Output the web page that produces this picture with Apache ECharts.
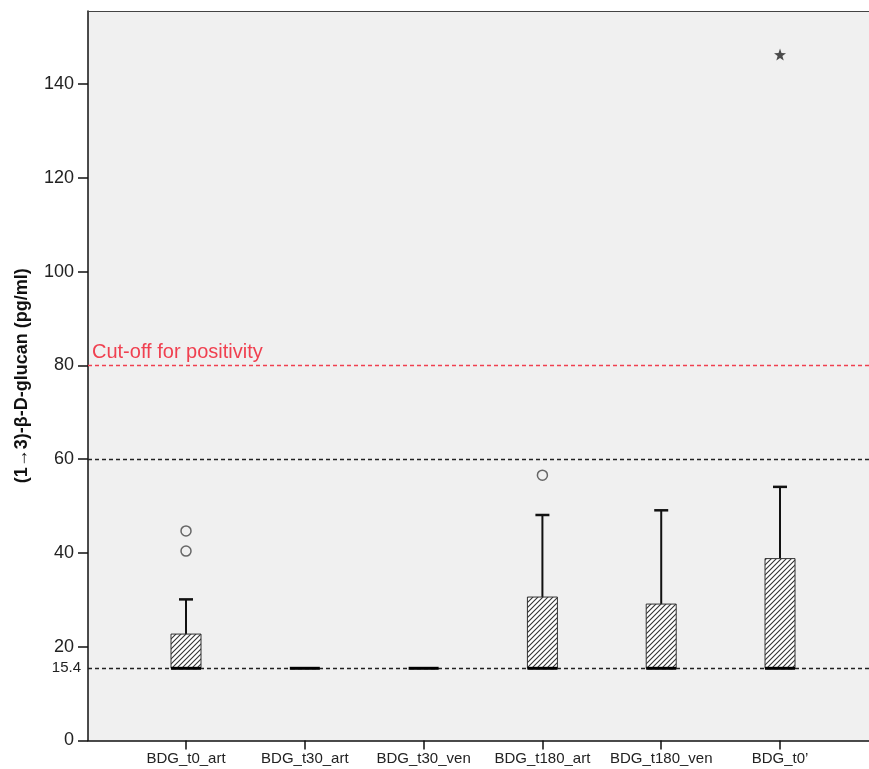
<!DOCTYPE html>
<html>
<head>
<meta charset="utf-8">
<script src="https://cdn.jsdelivr.net/npm/echarts@6/dist/echarts.min.js"></script>
<style>
html,body{margin:0;padding:0;background:#fff;}
#chart{width:869px;height:769px;}
</style>
</head>
<body>
<div id="chart"></div>
<script>
// ---- data ----
const categories = ['BDG_t0_art', 'BDG_t30_art', 'BDG_t30_ven', 'BDG_t180_art', 'BDG_t180_ven', 'BDG_t0\u2019'];
const whiskerLow = [15.4, 15.4, 15.4, 15.4, 15.4, 15.4];
const quartile1 = [15.4, 15.4, 15.4, 15.4, 15.4, 15.4];
const medians = [15.4, 15.4, 15.4, 15.4, 15.4, 15.4];
const quartile3 = [22.7, 15.4, 15.4, 30.6, 29.1, 38.8];
const whiskerHigh = [30.1, 15.4, 15.4, 48.1, 49.1, 54.1];
const outliers = [[0, 44.7], [0, 40.4], [3, 56.6]];
const extremes = [[5, 146.3]];
const yTicks = [0, 20, 40, 60, 80, 100, 120, 140];
const refLow = 15.4;
const refMid = 60;
const cutoff = 80;
const cutoffLabel = 'Cut-off for positivity';
const yTitle = '(1\u21923)-\u03b2-D-glucan (pg/ml)';

// hatch pattern
const pc = document.createElement('canvas');
pc.width = 5; pc.height = 5;
const g = pc.getContext('2d');
g.fillStyle = '#ffffff';
g.fillRect(0, 0, 5, 5);
g.strokeStyle = '#333333';
g.lineWidth = 1.1;
g.beginPath();
g.moveTo(0, 5); g.lineTo(5, 0);
g.moveTo(-1, 1); g.lineTo(1, -1);
g.moveTo(4, 6); g.lineTo(6, 4);
g.stroke();

const boxData = categories.map((c, i) => [i, whiskerLow[i], quartile1[i], medians[i], quartile3[i], whiskerHigh[i]]);
const catIdx = categories.map((c, i) => i);

const chart = echarts.init(document.getElementById('chart'), null, {renderer: 'canvas'});
const FONT = 'Liberation Sans, Arial, sans-serif';

chart.setOption({
  animation: false,
  backgroundColor: '#ffffff',
  grid: {
    left: 88, top: 11, right: 0, bottom: 28.5,
    show: true, backgroundColor: '#f0f0f0', borderWidth: 0
  },
  xAxis: [{
    type: 'value',
    min: -0.825, max: 5.749,
    splitLine: {show: false},
    axisLine: {show: true, onZero: false, lineStyle: {color: '#111', width: 1.5}},
    axisTick: {show: true, length: 9, customValues: catIdx, lineStyle: {color: '#111', width: 1.5}},
    axisLabel: {
      customValues: catIdx, margin: 11, fontSize: 15, color: '#222', fontFamily: FONT,
      formatter: v => categories[Math.round(v)] || ''
    }
  }, {
    type: 'value', position: 'top',
    min: -0.825, max: 5.749,
    splitLine: {show: false},
    axisLine: {show: true, onZero: false, lineStyle: {color: '#444', width: 1.2}},
    axisTick: {show: false},
    axisLabel: {show: false}
  }],
  yAxis: {
    type: 'value', min: 0, max: 155.6,
    name: yTitle, nameLocation: 'middle', nameGap: 57, nameRotate: 90,
    nameTextStyle: {fontSize: 18, fontWeight: 'bold', color: '#111', fontFamily: FONT},
    splitLine: {show: false},
    axisLine: {show: true, onZero: false, lineStyle: {color: '#111', width: 1.5}},
    axisTick: {show: true, length: 10, customValues: yTicks, lineStyle: {color: '#111', width: 1.5}},
    axisLabel: {customValues: yTicks, margin: 14, fontSize: 18, color: '#222', fontFamily: FONT}
  },
  series: [
    {
      type: 'scatter',
      z: 2,
      data: [],
      silent: true,
      markLine: {
        silent: true, symbol: 'none', animation: false,
        data: [
          {yAxis: refLow, lineStyle: {color: '#222', type: [4, 3], width: 1.3},
           label: {show: true, position: 'start', distance: 7, formatter: '15.4', fontSize: 15, color: '#222', fontFamily: FONT}},
          {yAxis: refMid, lineStyle: {color: '#222', type: [4, 3], width: 1.3}, label: {show: false}},
          {yAxis: cutoff, lineStyle: {color: '#f04050', type: [4, 3], width: 1.3},
           label: {show: true, position: 'insideStartTop', distance: [4, 3], formatter: cutoffLabel, fontSize: 20, color: '#f04050', fontFamily: FONT}}
        ]
      }
    },
    {
      type: 'custom',
      z: 5,
      data: boxData,
      encode: {x: 0, y: [1, 2, 3, 4, 5]},
      renderItem: function (params, api) {
        const x = api.value(0);
        const lo = api.coord([x, api.value(1)]);
        const q1 = api.coord([x, api.value(2)]);
        const med = api.coord([x, api.value(3)]);
        const q3 = api.coord([x, api.value(4)]);
        const hi = api.coord([x, api.value(5)]);
        const cx = med[0];
        const bw = 30, cw = 14;
        const children = [];
        if (hi[1] < q3[1] - 0.5) {
          children.push({type: 'line', shape: {x1: cx, y1: q3[1], x2: cx, y2: hi[1]}, style: {stroke: '#111', lineWidth: 2}});
          children.push({type: 'line', shape: {x1: cx - cw / 2, y1: hi[1], x2: cx + cw / 2, y2: hi[1]}, style: {stroke: '#111', lineWidth: 2.5}});
        }
        if (lo[1] > q1[1] + 0.5) {
          children.push({type: 'line', shape: {x1: cx, y1: q1[1], x2: cx, y2: lo[1]}, style: {stroke: '#111', lineWidth: 2}});
          children.push({type: 'line', shape: {x1: cx - cw / 2, y1: lo[1], x2: cx + cw / 2, y2: lo[1]}, style: {stroke: '#111', lineWidth: 2.5}});
        }
        if (q1[1] - q3[1] > 0.5) {
          children.push({type: 'rect', shape: {x: cx - bw / 2, y: q3[1], width: bw, height: q1[1] - q3[1]},
            style: {fill: {image: pc, repeat: 'repeat'}, stroke: '#333', lineWidth: 1}});
        }
        children.push({type: 'line', shape: {x1: cx - bw / 2, y1: med[1], x2: cx + bw / 2, y2: med[1]}, style: {stroke: '#000', lineWidth: 3}});
        return {type: 'group', children: children};
      }
    },
    {
      type: 'scatter',
      z: 6,
      data: outliers,
      symbol: 'circle',
      symbolSize: 10,
      itemStyle: {color: '#f0f0f0', borderColor: '#444', borderWidth: 1.5}
    },
    {
      type: 'scatter',
      z: 6,
      data: extremes,
      symbol: 'path://M0,-10 L2.35,-3.24 9.51,-3.09 3.8,1.24 5.88,8.09 0,4 -5.88,8.09 -3.8,1.24 -9.51,-3.09 -2.35,-3.24Z',
      symbolSize: 12,
      itemStyle: {color: '#222'}
    }
  ]
});
</script>
</body>
</html>
